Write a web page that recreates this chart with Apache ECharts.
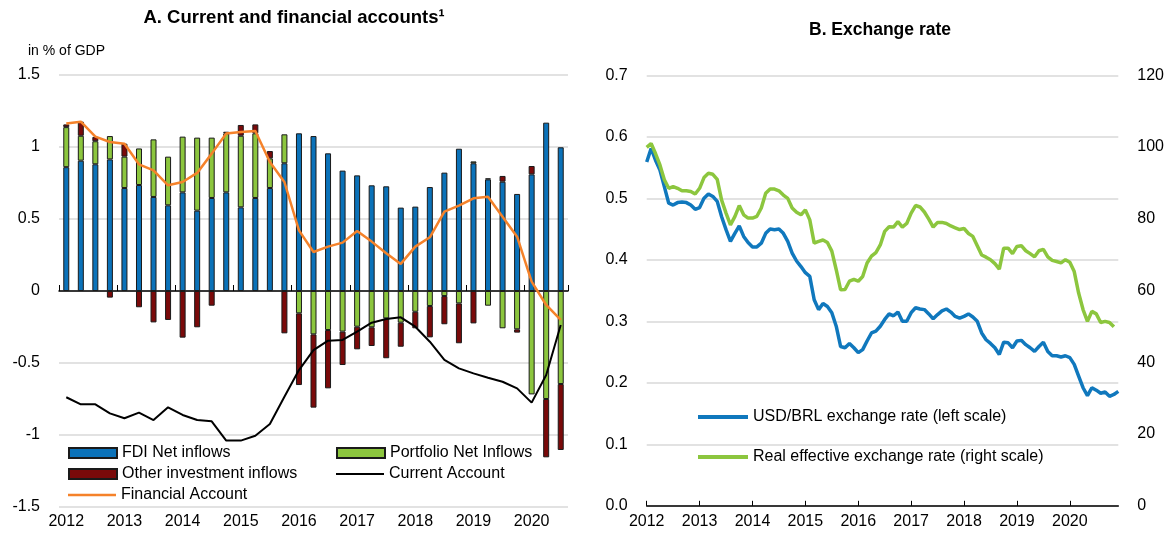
<!DOCTYPE html>
<html>
<head>
<meta charset="utf-8">
<script src="https://cdn.jsdelivr.net/npm/echarts@6/dist/echarts.min.js"></script>
<style>
  html, body { margin: 0; padding: 0; background: #fff; }
  #chart { width: 1167px; height: 533px; }
</style>
</head>
<body>
<div id="chart"></div>
<script>
// Panel A: quarterly, 2012Q1 - 2020Q3, in % of GDP
var years = ['2012', '2013', '2014', '2015', '2016', '2017', '2018', '2019', '2020'];
var quarters = [];
years.forEach(function (y) { ['Q1', 'Q2', 'Q3', 'Q4'].forEach(function (q) { quarters.push(y + q); }); });
quarters = quarters.slice(0, 35);

var fdi = [0.86, 0.905, 0.88, 0.914, 0.715, 0.736, 0.653, 0.595, 0.685, 0.558, 0.646, 0.685,
  0.581, 0.646, 0.715, 0.887, 1.095, 1.076, 0.956, 0.836, 0.803, 0.734, 0.727, 0.579,
  0.586, 0.722, 0.822, 0.988, 0.887, 0.775, 0.759, 0.674, 0.81, 1.169, 0.998];
var portfolio = [0.278, 0.173, 0.16, 0.162, 0.218, 0.254, 0.40, 0.338, 0.387, 0.507, 0.419, 0.41,
  0.497, 0.449, 0.206, 0.201, -0.155, -0.301, -0.271, -0.282, -0.248, -0.252, -0.19, -0.22,
  -0.144, -0.104, -0.035, -0.086, 0.013, -0.102, -0.259, -0.266, -0.718, -0.75, -0.646];
var other = [0.019, 0.098, 0.03, -0.046, 0.09, -0.113, -0.218, -0.201, -0.324, -0.252, -0.102, 0.011,
  0.075, 0.062, 0.051, -0.294, -0.498, -0.509, -0.405, -0.232, -0.157, -0.13, -0.277, -0.167,
  -0.115, -0.218, -0.196, -0.277, -0.225, 0.007, 0.04, -0.023, 0.058, -0.405, -0.458];
var currentAccount = [-0.738, -0.787, -0.787, -0.85, -0.884, -0.845, -0.896, -0.808, -0.861, -0.896, -0.905, -1.039,
  -1.039, -1.005, -0.924, -0.734, -0.549, -0.41, -0.345, -0.34, -0.282, -0.22, -0.194, -0.183,
  -0.248, -0.352, -0.479, -0.537, -0.572, -0.602, -0.63, -0.676, -0.775, -0.583, -0.236];
var financialAccount = [1.164, 1.176, 1.072, 1.035, 1.023, 0.88, 0.838, 0.734, 0.757, 0.82, 0.954, 1.093,
  1.104, 1.111, 0.896, 0.757, 0.421, 0.271, 0.308, 0.336, 0.417, 0.343, 0.262, 0.188,
  0.308, 0.373, 0.551, 0.593, 0.644, 0.655, 0.516, 0.377, 0.065, -0.097, -0.201];

// Panel B: monthly, 2012-01 - 2020-12
var months = [];
years.forEach(function (y) {
  ['01', '02', '03', '04', '05', '06', '07', '08', '09', '10', '11', '12'].forEach(function (m) { months.push(y + '-' + m); });
});
var usdBrl = [0.559, 0.581, 0.562, 0.546, 0.519, 0.492, 0.489, 0.493, 0.494, 0.493, 0.489, 0.482,
  0.485, 0.500, 0.507, 0.503, 0.495, 0.470, 0.449, 0.430, 0.443, 0.455, 0.438, 0.428,
  0.421, 0.421, 0.427, 0.443, 0.450, 0.449, 0.450, 0.443, 0.430, 0.411, 0.398, 0.389,
  0.379, 0.373, 0.335, 0.319, 0.329, 0.324, 0.314, 0.292, 0.259, 0.257, 0.264, 0.257,
  0.249, 0.254, 0.268, 0.281, 0.284, 0.292, 0.303, 0.312, 0.309, 0.315, 0.300, 0.300,
  0.314, 0.322, 0.320, 0.319, 0.312, 0.304, 0.311, 0.317, 0.320, 0.315, 0.308, 0.305,
  0.308, 0.312, 0.307, 0.300, 0.281, 0.270, 0.264, 0.257, 0.246, 0.266, 0.265, 0.257,
  0.268, 0.269, 0.262, 0.257, 0.251, 0.259, 0.266, 0.251, 0.244, 0.244, 0.242, 0.244,
  0.241, 0.230, 0.211, 0.192, 0.179, 0.192, 0.188, 0.183, 0.185, 0.178, 0.181, 0.186];
var reer = [99.9, 101.0, 98.2, 95.0, 90.9, 88.5, 89.0, 88.5, 87.8, 87.8, 87.6, 86.9,
  88.5, 91.5, 92.7, 92.4, 91.0, 85.2, 81.6, 78.3, 80.6, 83.7, 81.1, 80.2,
  80.2, 80.7, 83.0, 87.1, 88.3, 88.3, 87.8, 86.6, 85.7, 83.0, 81.8, 81.1,
  82.5, 79.7, 73.2, 73.7, 74.1, 73.4, 71.0, 65.8, 60.2, 60.3, 62.6, 63.1,
  62.6, 63.9, 67.7, 69.6, 70.6, 72.7, 76.5, 77.8, 77.7, 79.2, 77.7, 78.7,
  81.6, 83.7, 83.3, 81.9, 79.9, 77.7, 79.0, 79.0, 78.7, 78.0, 77.5, 77.0,
  77.3, 75.9, 75.1, 72.5, 69.9, 69.3, 68.6, 67.5, 66.0, 71.8, 71.8, 70.3,
  72.3, 72.5, 71.1, 70.3, 69.4, 71.1, 71.5, 69.4, 68.4, 68.1, 67.7, 68.6,
  67.9, 65.3, 59.3, 54.7, 51.4, 54.2, 53.5, 51.1, 51.4, 51.1, 49.9];

var FONT = 'Liberation Sans, Arial, sans-serif';
var txt = { fontFamily: FONT, fontSize: 16, color: '#000' };
var legendTxt = { fontFamily: FONT, fontSize: 16, color: '#000', lineHeight: 16 };
var grey = '#d9d9d9';

var myChart = echarts.init(document.getElementById('chart'));

var barStyle = function (c) {
  return { color: c, borderColor: '#1a1a1a', borderWidth: 1 };
};

// one legend box per column / icon type, so line items get a plain line icon
var legendBox = function (left, top, h, w, gap, names) {
  return {
    left: left, top: top, orient: 'vertical', itemWidth: w, itemHeight: h, itemGap: gap,
    icon: 'rect', textStyle: legendTxt, data: names
  };
};

var option = {
  animation: false,
  textStyle: { fontFamily: FONT },
  graphic: [
    { type: 'text', x: 294, y: 18, style: { text: 'A. Current and financial accounts\u00b9', textAlign: 'center', textVerticalAlign: 'middle', font: 'bold 18.5px ' + FONT, fill: '#000' } },
    { type: 'text', x: 880, y: 30, style: { text: 'B. Exchange rate', textAlign: 'center', textVerticalAlign: 'middle', font: 'bold 17.5px ' + FONT, fill: '#000' } },
    { type: 'text', x: 28, y: 51, style: { text: 'in % of GDP', textVerticalAlign: 'middle', font: '14px ' + FONT, fill: '#000' } }
  ],
  legend: [
    legendBox(63, 440, 10, 48, 5, ['FDI Net inflows', 'Other investment inflows']),
    legendBox(63, 482, 2.5, 48, 5, ['Financial Account']),
    legendBox(331, 440, 10, 48, 5, ['Portfolio Net Inflows']),
    legendBox(331, 461, 2, 48, 5, ['Current Account']),
    legendBox(693, 404, 4, 50, 24, ['USD/BRL exchange rate (left scale)', 'Real effective exchange rate (right scale)'])
  ],
  grid: [
    { left: 59, top: 75, width: 509, height: 432 },
    { left: 646.7, top: 75.3, width: 472.3, height: 430.5 }
  ],
  xAxis: [
    {
      gridIndex: 0, type: 'category', data: quarters, position: 'bottom',
      axisLine: { onZero: true, lineStyle: { color: '#000', width: 1.5 } },
      axisTick: { show: true, inside: true, length: 6, lineStyle: { color: '#000' }, interval: function (i) { return i % 4 === 0; } },
      axisLabel: { show: false }
    },
    {
      gridIndex: 0, type: 'category', data: quarters, position: 'bottom',
      axisLine: { show: false, onZero: false }, axisTick: { show: false },
      axisLabel: Object.assign({ margin: 7, interval: function (i) { return i % 4 === 0; }, formatter: function (v) { return v.slice(0, 4); } }, txt)
    },
    {
      gridIndex: 1, type: 'category', data: months, boundaryGap: false,
      axisLine: { onZero: false, lineStyle: { color: '#000', width: 1.5 } },
      axisTick: { show: true, inside: true, length: 5, alignWithLabel: true, lineStyle: { color: '#000' }, interval: function (i) { return i % 12 === 0; } },
      axisLabel: Object.assign({ margin: 8, interval: function (i) { return i % 12 === 0; }, formatter: function (v) { return v.slice(0, 4); } }, txt)
    }
  ],
  yAxis: [
    {
      gridIndex: 0, type: 'value', min: -1.5, max: 1.5, interval: 0.5,
      axisLine: { show: false }, axisTick: { show: false },
      axisLabel: Object.assign({ margin: 19 }, txt),
      splitLine: { lineStyle: { color: grey, width: 1.5 } }
    },
    {
      gridIndex: 1, type: 'value', min: 0, max: 0.7, interval: 0.1, position: 'left',
      axisLine: { show: false }, axisTick: { show: false },
      axisLabel: Object.assign({ margin: 19, formatter: function (v) { return v.toFixed(1); } }, txt),
      splitLine: { lineStyle: { color: grey, width: 1.5 } }
    },
    {
      gridIndex: 1, type: 'value', min: 0, max: 120, interval: 20, position: 'right',
      axisLine: { show: false }, axisTick: { show: false },
      axisLabel: Object.assign({ margin: 19 }, txt),
      splitLine: { show: false }
    }
  ],
  series: [
    { name: 'FDI Net inflows', type: 'bar', stack: 'a', xAxisIndex: 0, yAxisIndex: 0, barWidth: 6, itemStyle: barStyle('#0b72b9'), data: fdi },
    { name: 'Portfolio Net Inflows', type: 'bar', stack: 'a', xAxisIndex: 0, yAxisIndex: 0, barWidth: 6, itemStyle: barStyle('#8cc63e'), data: portfolio },
    { name: 'Other investment inflows', type: 'bar', stack: 'a', xAxisIndex: 0, yAxisIndex: 0, barWidth: 6, itemStyle: barStyle('#7a0a0a'), data: other },
    { name: 'Current Account', type: 'line', xAxisIndex: 0, yAxisIndex: 0, symbol: 'none', z: 5, lineStyle: { color: '#000', width: 2 }, itemStyle: { color: '#000' }, data: currentAccount },
    { name: 'Financial Account', type: 'line', xAxisIndex: 0, yAxisIndex: 0, symbol: 'none', z: 5, lineStyle: { color: '#f5822a', width: 2.5 }, itemStyle: { color: '#f5822a' }, data: financialAccount },
    { name: 'USD/BRL exchange rate (left scale)', type: 'line', xAxisIndex: 2, yAxisIndex: 1, symbol: 'none', lineStyle: { color: '#1078bd', width: 3.5 }, itemStyle: { color: '#1078bd' }, data: usdBrl },
    { name: 'Real effective exchange rate (right scale)', type: 'line', xAxisIndex: 2, yAxisIndex: 2, symbol: 'none', lineStyle: { color: '#8cc63e', width: 3.5 }, itemStyle: { color: '#8cc63e' }, data: reer }
  ]
};

if (option && typeof option === 'object') {
  myChart.setOption(option, true);
}
</script>
</body>
</html>
